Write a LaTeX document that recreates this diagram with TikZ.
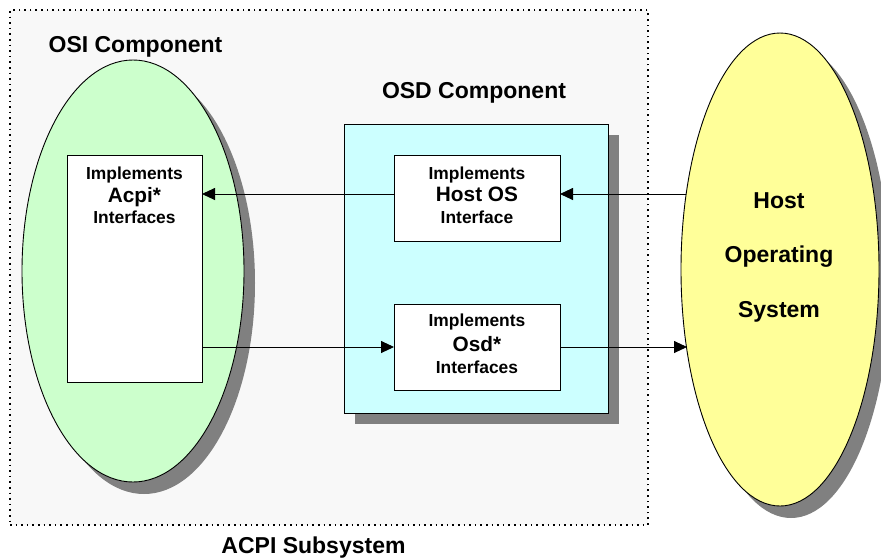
\documentclass[tikz,border=0pt]{standalone}
\usepackage{fontspec}
\setmainfont{Liberation Sans}
\usetikzlibrary{shapes.geometric,shadows,arrows.meta}

\definecolor{osigreen}{HTML}{CCFFCC}
\definecolor{osdcyan}{HTML}{CCFFFF}
\definecolor{hostyellow}{HTML}{FFFF99}
\definecolor{shade}{HTML}{808080}
\definecolor{panelgray}{HTML}{F8F8F8}

\begin{document}
\begin{tikzpicture}[x=1pt,y=-1pt,
  ovalshadow/.style={drop shadow={shadow xshift=11pt,shadow yshift=-12pt,fill=shade,opacity=1}},
  boxshadow/.style={drop shadow={shadow xshift=11pt,shadow yshift=-11pt,fill=shade,opacity=1}},
  blob/.style={ellipse,draw=black,line width=0.9pt,inner sep=0pt,outer sep=0pt},
  ifbox/.style={rectangle,draw=black,fill=white,line width=0.9pt,inner sep=0pt,outer sep=0pt},
  title/.style={font=\fontsize{23}{27}\selectfont\bfseries,anchor=base,inner sep=0pt},
  smalltxt/.style={font=\fontsize{17.4}{20}\selectfont\bfseries,anchor=base,inner sep=0pt},
  bigtxt/.style={font=\fontsize{20.8}{24}\selectfont\bfseries,anchor=base,inner sep=0pt},
  link/.style={line width=0.9pt,-{Triangle[length=13pt,width=12pt]}}]

\useasboundingbox (0,0) rectangle (881,558);

% dotted subsystem panel
\node[draw=black,fill=panelgray,line width=1.6pt,dash pattern=on 1.6pt off 4pt,
      minimum width=638pt,minimum height=515pt,inner sep=0pt] (panel) at (329,267.5) {};

% OSI component
\node[blob,ovalshadow,fill=osigreen,minimum width=222pt,minimum height=422pt] (osi) at (133,271) {};
\node[ifbox,minimum width=135pt,minimum height=227pt] (acpi) at (134.5,268.5) {};

% OSD component
\node[rectangle,draw=black,line width=0.9pt,fill=osdcyan,boxshadow,inner sep=0pt,
      minimum width=264pt,minimum height=289pt] (osd) at (476,268.5) {};
\node[ifbox,minimum width=166pt,minimum height=86pt] (hostif) at (477,198) {};
\node[ifbox,minimum width=166pt,minimum height=86pt] (osdif) at (477,347) {};

% host operating system
\node[blob,ovalshadow,fill=hostyellow,minimum width=198pt,minimum height=473pt] (host) at (780,269.5) {};

% titles
\node[title] (osititle) at (135.5,52) {OSI Component};
\node[title] (osdtitle) at (474,98) {OSD Component};
\node[title] (subsys) at (313.5,553) {ACPI Subsystem};

% interface texts
\node[smalltxt] (acpi1) at (134.5,179.3) {Implements};
\node[bigtxt]   (acpi2) at (134.5,202.3) {Acpi*};
\node[smalltxt] (acpi3) at (134.5,223.3) {Interfaces};

\node[smalltxt] (host1) at (477,179.3) {Implements};
\node[bigtxt]   (host2) at (477,201.5) {Host OS};
\node[smalltxt] (host3) at (477,223.3) {Interface};

\node[smalltxt] (osd1) at (477,326.7) {Implements};
\node[bigtxt]   (osd2) at (477,351) {Osd*};
\node[smalltxt] (osd3) at (477,373.3) {Interfaces};

\node[title] (hos1) at (779,208.3) {Host};
\node[title] (hos2) at (779,262.7) {Operating};
\node[title] (hos3) at (779,317.3) {System};

% connectors
\coordinate (hostout) at (686,194);
\coordinate (hostin) at (687,347);
\draw[link] ([yshift=4pt]hostif.west) -- ([yshift=4pt]hostif.west -| acpi.east);
\draw[link] (osdif.west -| acpi.east) -- (osdif.west);
\draw[link] (hostout) -- ([yshift=4pt]hostif.east);
\draw[link] (osdif.east) -- (hostin);
\end{tikzpicture}
\end{document}
